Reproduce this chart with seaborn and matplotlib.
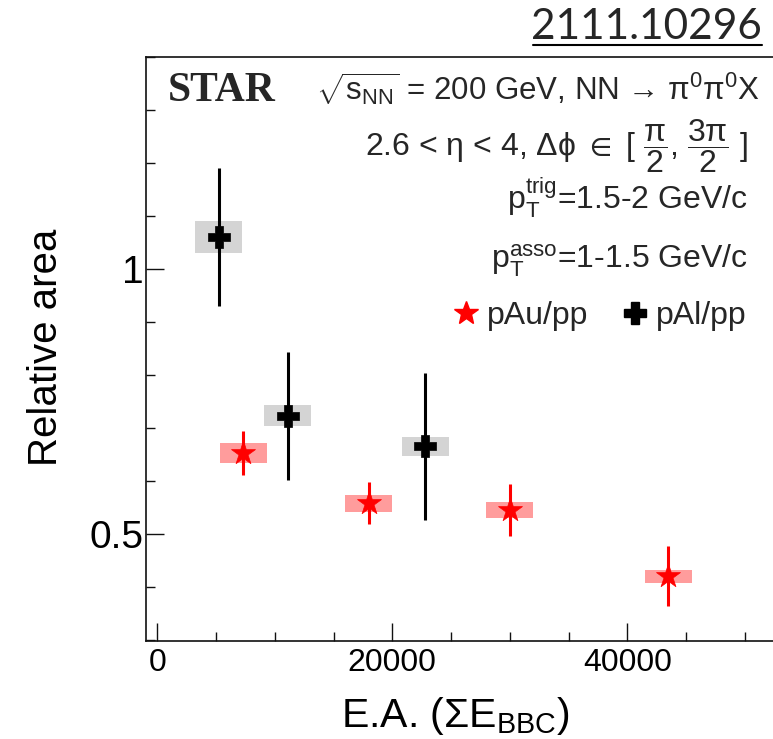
import numpy as np
import pandas as pd
import matplotlib
matplotlib.use("Agg")
import matplotlib.pyplot as plt
from matplotlib.lines import Line2D
from matplotlib.ticker import MultipleLocator, FixedLocator
import seaborn as sns

# ---------------- data ----------------
pal_x = [5250, 11100, 22800]
pal_y = [1.061, 0.723, 0.665]
pal_stat = [0.130, 0.121, 0.138]
pal_sys = [0.030, 0.020, 0.018]

pau_x = [7300, 18000, 30000, 43500]
pau_y = [0.653, 0.558, 0.545, 0.420]
pau_stat = [0.042, 0.040, 0.049, 0.057]
pau_sys = [0.019, 0.016, 0.016, 0.012]

series_labels = ["pAu/pp", "pAl/pp"]
x_ticks = [0, 20000, 40000]
x_ticklabels = ["0", "20000", "40000"]
y_ticks = [0.5, 1.0]
y_ticklabels = ["0.5", "1"]

# ---------------- style ----------------
sns.set_theme(style="ticks")
plt.rcParams["font.family"] = ["Liberation Sans", "DejaVu Sans"]
plt.rcParams["mathtext.fontset"] = "custom"
plt.rcParams["mathtext.rm"] = "Liberation Sans"
plt.rcParams["mathtext.it"] = "Liberation Sans:italic"
plt.rcParams["mathtext.bf"] = "Liberation Sans:bold"
plt.rcParams["mathtext.default"] = "regular"

W, H = 773, 739
fig = plt.figure(figsize=(W / 100, H / 100), dpi=100)
fig.patch.set_facecolor("white")

def fx(px):
    return px / W

def fy(py):
    return 1 - py / H

L, R, T, B = 145.7, 800.0, 57.3, 641.0
ax = fig.add_axes([fx(L), fy(B), (R - L) / W, (B - T) / H])
ax.set_facecolor("white")

df_al = pd.DataFrame({"x": pal_x, "y": pal_y, "stat": pal_stat, "sys": pal_sys})
df_au = pd.DataFrame({"x": pau_x, "y": pau_y, "stat": pau_stat, "sys": pau_sys})

red = "#ff0000"
red_box = "#ff9c9c"
grey_box = "#d4d4d4"
box_w = 4000

# systematic boxes
ax.bar(df_au["x"], 2 * df_au["sys"], bottom=df_au["y"] - df_au["sys"], width=box_w,
       color=red_box, linewidth=0, zorder=1)
ax.bar(df_al["x"], 2 * df_al["sys"], bottom=df_al["y"] - df_al["sys"], width=box_w,
       color=grey_box, linewidth=0, zorder=1)

# statistical error bars
ax.errorbar(df_au["x"], df_au["y"], yerr=df_au["stat"], fmt="none", ecolor=red,
            elinewidth=2.2, capsize=0, zorder=2)
ax.errorbar(df_al["x"], df_al["y"], yerr=df_al["stat"], fmt="none", ecolor="black",
            elinewidth=2.2, capsize=0, zorder=2)

# markers
sns.scatterplot(data=df_au, x="x", y="y", marker="*", s=330, color=red,
                edgecolor=red, linewidth=0.5, ax=ax, zorder=3, legend=False)
sns.scatterplot(data=df_al, x="x", y="y", marker="P", s=270, color="black",
                edgecolor="black", linewidth=0.5, ax=ax, zorder=3, legend=False)

# axes limits and ticks
ax.set_xlim(-987, (R - 157.3) / 235 * 20000)
ax.set_ylim(0.2975, 1.4003)
ax.xaxis.set_major_locator(FixedLocator(x_ticks))
ax.set_xticklabels(x_ticklabels)
ax.xaxis.set_minor_locator(MultipleLocator(5000))
ax.yaxis.set_major_locator(FixedLocator(y_ticks))
ax.set_yticklabels(y_ticklabels)
ax.yaxis.set_minor_locator(MultipleLocator(0.1))

ax.tick_params(which="both", direction="in", top=False, right=False, color="#111111",
               width=1.0)
ax.tick_params(which="major", length=13)
ax.tick_params(which="minor", length=6.5)
ax.tick_params(axis="x", which="major", labelsize=23, pad=5, labelcolor="black")
ax.tick_params(axis="y", which="major", labelsize=28, pad=1.5, labelcolor="black")
for s in ax.spines.values():
    s.set_linewidth(1.2)
    s.set_color("#111111")
    s.set_visible(True)

ax.set_xlabel(r"E.A. ($\Sigma E_{BBC}$)", fontsize=29.5, color="black", va="baseline")
ax.xaxis.set_label_coords((455 - L) / (R - L), (B - 727) / (B - T))
ax.set_ylabel("Relative area", fontsize=29, color="black", va="center")
ax.yaxis.set_label_coords((46 - L) / (R - L), (B - 347) / (B - T))

# legend
handles = [
    Line2D([], [], linestyle="none", marker="*", markersize=18, color=red,
           markeredgecolor=red, label=series_labels[0]),
    Line2D([], [], linestyle="none", marker="P", markersize=16.5, color="black",
           label=series_labels[1]),
]
leg = ax.legend(handles=handles, ncol=2, frameon=False, fontsize=23,
                loc="center left", bbox_to_anchor=(fx(453), fy(316)),
                bbox_transform=fig.transFigure, borderpad=0, borderaxespad=0,
                handlelength=0.8, handletextpad=0.26, columnspacing=1.06)

# annotations
fig.text(fx(168), fy(101), "STAR", family="Liberation Serif", weight="bold",
         fontsize=30, ha="left", va="baseline")
fig.text(fx(760), fy(100), r"$\sqrt{s_{NN}}$ = 200 GeV, NN → $\pi^{0}\pi^{0}$X",
         fontsize=22.5, ha="right", va="baseline")
fig.text(fx(748), fy(155), r"2.6 < $\eta$ < 4, $\Delta\phi$ $\in$ [ $\dfrac{\pi}{2}$, $\dfrac{3\pi}{2}$ ]",
         fontsize=23, ha="right", va="baseline")
fig.text(fx(748), fy(210), r"$p_{T}^{trig}$=1.5-2 GeV/c", fontsize=23, ha="right", va="baseline")
fig.text(fx(748), fy(268), r"$p_{T}^{asso}$=1-1.5 GeV/c", fontsize=23, ha="right", va="baseline")

# arXiv id, underlined
fig.text(fx(762), fy(39), "2111.10296", family="Lato", fontsize=30.5, ha="right", va="baseline")
fig.add_artist(Line2D([fx(533), fx(762)], [fy(45), fy(45)], transform=fig.transFigure,
                      color="black", linewidth=1.5))

fig.savefig("out.png", dpi=100, facecolor="white")
